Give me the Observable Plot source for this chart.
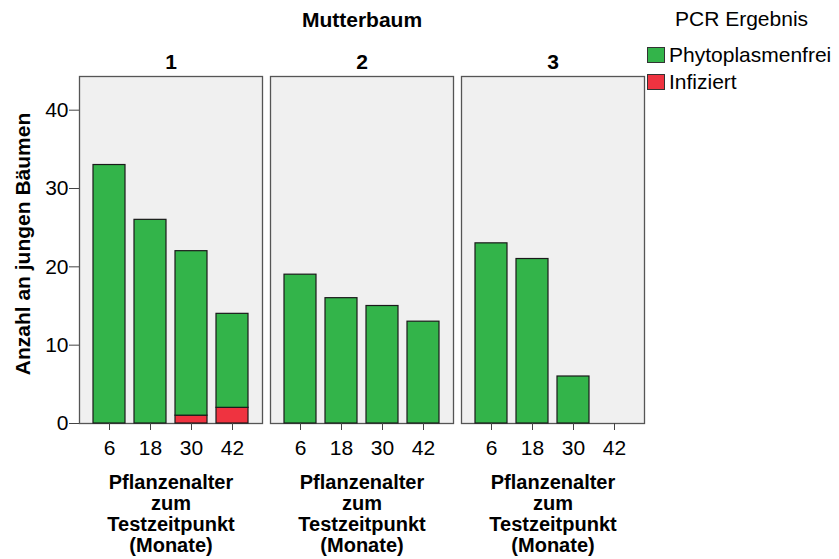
<!DOCTYPE html>
<html>
<head>
<meta charset="utf-8">
<script src="https://cdn.jsdelivr.net/npm/d3@7"></script>
<script src="https://cdn.jsdelivr.net/npm/@observablehq/plot@0.6"></script>
<style>
  html, body { margin: 0; padding: 0; background: #fff; }
  #wrap { position: relative; width: 839px; height: 559px; font-family: "Liberation Sans", Arial, sans-serif; color: #000; }
  #title { position: absolute; left: 212px; width: 300px; top: 8px; line-height: 24px; text-align: center; font-weight: bold; font-size: 21px; }
  .lg-head { position: absolute; left: 675px; top: 7px; line-height: 24px; font-size: 21px; white-space: nowrap; }
  .lg-sw { position: absolute; left: 647px; width: 16px; height: 14px; border: 1px solid #333; }
  .lg-txt { position: absolute; left: 669px; line-height: 24px; font-size: 21px; white-space: nowrap; }
</style>
</head>
<body>
<div id="wrap">
  <div id="chart"></div>
  <div id="title">Mutterbaum</div>
  <div id="legend"></div>
</div>
<script>
const mutterbaum = ["1", "2", "3"];
const alter = ["6", "18", "30", "42"];
const statusLabels = ["Phytoplasmenfrei", "Infiziert"];
const colors = ["#33b44a", "#ef3340"];
const frei = [[33, 26, 21, 12], [19, 16, 15, 13], [23, 21, 6, 0]];
const infiziert = [[0, 0, 1, 2], [0, 0, 0, 0], [0, 0, 0, 0]];
const yTicks = [0, 10, 20, 30, 40];
const xLabel = "Pflanzenalter\nzum\nTestzeitpunkt\n(Monate)";
const yLabel = "Anzahl an jungen Bäumen";
const legendTitle = "PCR Ergebnis";

const rows = [];
mutterbaum.forEach((m, i) => {
  alter.forEach((a, j) => {
    if (infiziert[i][j] > 0) rows.push({baum: m, alter: a, status: statusLabels[1], n: infiziert[i][j]});
    if (frei[i][j] > 0) rows.push({baum: m, alter: a, status: statusLabels[0], n: frei[i][j]});
  });
});

const chart = Plot.plot({
  width: 839,
  height: 559,
  marginLeft: 79,
  marginRight: 195,
  marginTop: 76,
  marginBottom: 136,
  style: {fontFamily: "'Liberation Sans', Arial, sans-serif", fontSize: "21px", color: "#000"},
  fx: {domain: mutterbaum, paddingInner: 0.043, paddingOuter: 0, label: null},
  x: {domain: alter, paddingInner: 0.22, paddingOuter: 0.34, label: null},
  y: {domain: [0, 44.3], label: null},
  color: {domain: statusLabels, range: colors},
  marks: [
    Plot.frame({fill: "#f0f0f0", stroke: "#555", strokeWidth: 1.3}),
    Plot.barY(rows, {fx: "baum", x: "alter", y: "n", fill: "status", order: ["Infiziert", "Phytoplasmenfrei"], stroke: "#1a1a1a", strokeWidth: 1.2}),
    Plot.axisY({ticks: yTicks, tickSize: 10, tickPadding: 1, label: null, fontSize: 21, stroke: "#444"}),
    Plot.axisX({tickSize: 7, tickPadding: 10, label: null, fontSize: 21, stroke: "#444", lineAnchor: "top"}),
    Plot.axisFx({anchor: "top", tickSize: 0, tickPadding: 8, label: null, fontSize: 21, fontWeight: "bold"}),
    Plot.text(mutterbaum, {fx: d => d, text: () => xLabel, frameAnchor: "bottom", lineAnchor: "top", dy: 51, fontWeight: "bold", fontSize: 20, lineHeight: 1.05}),
    Plot.text([yLabel], {fx: () => mutterbaum[0], text: d => d, frameAnchor: "left", textAnchor: "middle", rotate: -90, dx: -56, dy: -6, fontWeight: "bold", fontSize: 21})
  ]
});
document.getElementById("chart").appendChild(chart);

const legend = document.getElementById("legend");
const head = document.createElement("div");
head.className = "lg-head";
head.textContent = legendTitle;
legend.appendChild(head);
statusLabels.forEach((s, i) => {
  const sw = document.createElement("div");
  sw.className = "lg-sw";
  sw.style.top = (47 + i * 27) + "px";
  sw.style.background = colors[i];
  const t = document.createElement("div");
  t.className = "lg-txt";
  t.style.top = (43 + i * 27) + "px";
  t.textContent = s;
  legend.appendChild(sw);
  legend.appendChild(t);
});
</script>
</body>
</html>
